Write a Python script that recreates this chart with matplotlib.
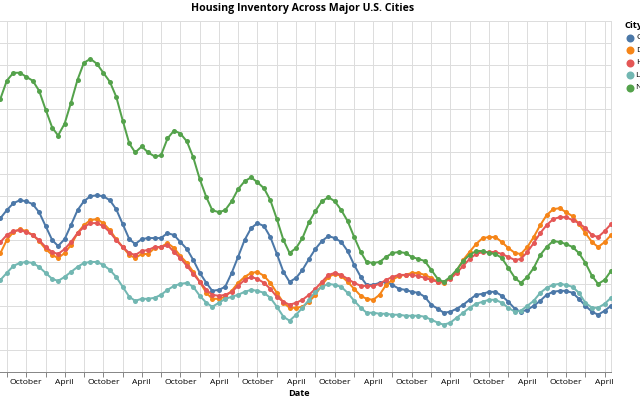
import numpy as np
import pandas as pd
import matplotlib
matplotlib.use('Agg')
import matplotlib.pyplot as plt
import matplotlib.dates as mdates
from matplotlib.lines import Line2D

# monthly housing inventory (hundreds of listings), Jun 2016 - May 2024
dates = pd.date_range('2016-06-01', periods=96, freq='MS')
cities = ['Chicago', 'Dallas', 'Houston', 'Los Angeles', 'New York']

chicago = [154, 162, 169, 172, 171, 168, 160, 146, 132, 126, 133, 147, 162, 171, 176, 177, 176, 172, 163, 148,
           133, 128, 133, 134, 134, 134, 139, 137, 130, 123, 112, 99, 89, 81, 82, 85, 99, 115, 132,
           144, 149, 146, 135, 118, 100, 90, 94, 102, 113, 123, 131, 136, 134, 130, 121, 107, 95, 87,
           87, 89, 90, 87, 83, 82, 80, 79, 75, 67, 63, 59, 60, 63, 67, 72, 77, 78, 80,
           80, 76, 70, 63, 60, 62, 66, 71, 77, 80, 81, 81, 79, 73, 66, 60, 57, 61, 66]
dallas = [119, 132, 140, 143, 141, 137, 131, 123, 117, 114, 119, 127, 139, 147, 152, 153, 149, 142, 133, 125,
          117, 114, 118, 118, 124, 125, 129, 124, 116, 109, 100, 90, 79, 73, 73, 75, 81, 89, 95,
          99, 100, 96, 89, 79, 69, 64, 64, 65, 70, 77, 87, 95, 98, 96, 90, 83, 76, 73,
          72, 77, 87, 92, 96, 97, 99, 99, 97, 94, 90, 89, 94, 101, 112, 120, 128, 134, 135,
          135, 130, 124, 119, 118, 125, 135, 147, 157, 163, 164, 160, 156, 148, 139, 130, 125, 130, 137]
houston = [130, 137, 141, 142, 140, 137, 132, 125, 120, 118, 123, 130, 139, 145, 149, 149, 146, 140, 132, 125,
           119, 117, 121, 122, 125, 125, 127, 120, 114, 106, 98, 90, 82, 77, 76, 77, 80, 86, 92,
           95, 93, 89, 83, 75, 70, 67, 69, 72, 77, 83, 90, 97, 99, 97, 93, 89, 86, 86,
           86, 88, 92, 95, 97, 97, 97, 96, 94, 92, 90, 90, 93, 99, 106, 113, 118, 120, 120,
           120, 118, 115, 112, 113, 120, 129, 139, 147, 153, 155, 155, 152, 149, 144, 137, 135, 141, 148]
los_angeles = [92, 99, 106, 109, 110, 109, 105, 99, 93, 91, 95, 100, 105, 109, 110, 110, 107, 102, 95, 85,
               75, 71, 73, 73, 74, 77, 82, 86, 88, 89, 85, 76, 69, 65, 69, 73, 75, 77, 80,
               82, 81, 79, 74, 65, 55, 51, 57, 64, 72, 80, 85, 88, 87, 85, 79, 71, 64, 59,
               59, 58, 58, 57, 57, 56, 56, 56, 55, 52, 49, 47, 49, 54, 59, 64, 68, 70, 72,
               72, 69, 64, 60, 61, 66, 71, 79, 84, 87, 88, 87, 85, 79, 69, 64, 64, 68, 74]
new_york = [274, 292, 300, 300, 296, 292, 282, 263, 245, 237, 249, 270, 293, 310, 314, 309, 300, 291, 276, 252,
            229, 220, 226, 220, 216, 217, 234, 242, 239, 231, 215, 193, 175, 162, 160, 162, 171, 183, 191,
            195, 190, 184, 172, 153, 132, 119, 124, 134, 150, 161, 171, 175, 171, 162, 151, 135, 120, 110,
            109, 110, 115, 119, 120, 119, 115, 113, 111, 102, 93, 90, 95, 102, 111, 117, 121, 121, 119,
            118, 114, 104, 94, 89, 95, 104, 117, 125, 131, 130, 128, 125, 119, 109, 96, 88, 92, 101]

series = [chicago, dallas, houston, los_angeles, new_york]
colors = ['#4c78a8', '#f58518', '#e45756', '#72b7b2', '#54a24b']

FONT = 'Open Sans'
W, H = 640, 400
px = 0.72  # points per pixel at 100 dpi

fig = plt.figure(figsize=(6.4, 4), dpi=100, facecolor='white')
# plot area (in pixels): left -6, right 611, top 21, bottom 371.5
left, right, top, bottom = -6.1, 611, 21, 371.5
ax = fig.add_axes([left / W, 1 - bottom / H, (right - left) / W, (bottom - top) / H])

for vals, c in zip(series, colors):
    ax.plot(dates, vals, color=c, lw=2 * px, marker='o', ms=5 * px, mew=0,
            solid_joinstyle='round', zorder=3)

ax.set_xlim(pd.Timestamp('2016-05-01'), pd.Timestamp('2024-05-01'))
ax.set_ylim(0, 352)
ax.set_yticks(np.arange(0, 353, 22))
ax.tick_params(axis='y', length=0, labelleft=False)

ax.xaxis.set_major_locator(mdates.MonthLocator(bymonth=[1, 4, 7, 10]))
names = {4: 'April', 10: 'October'}
ax.xaxis.set_major_formatter(plt.FuncFormatter(
    lambda v, p: names.get(mdates.num2date(v).month, '')))
ax.tick_params(axis='x', length=5 * px, width=px, color='#888888', pad=2 * px,
               labelsize=6.1, labelcolor='black')
for lab in ax.get_xticklabels():
    lab.set_fontfamily(FONT)

ax.grid(True, color='#dddddd', lw=px, zorder=0)
ax.set_axisbelow(True)
for s in ax.spines.values():
    s.set_color('#dddddd')
    s.set_linewidth(px)
ax.spines['bottom'].set_color('#888888')

mid = (left + right) / 2 / W
fig.text(mid, 1 - 8 / H, 'Housing Inventory Across Major U.S. Cities', ha='center', va='center',
         fontsize=7.6, fontweight='bold', family=FONT)
fig.text(mid - 4 / W, 1 - 393.5 / H, 'Date', ha='center', va='center',
         fontsize=6.6, fontweight='bold', family=FONT)

# legend
fig.text(624.5 / W, 1 - 25 / H, 'City', ha='left', va='center',
         fontsize=6.8, fontweight='bold', family=FONT)
for k, (name, c) in enumerate(zip(cities, colors)):
    yy = 1 - (37.7 + 12.5 * k) / H
    fig.add_artist(Line2D([630 / W], [yy], marker='o', ms=8 * px, mew=0, color=c,
                          transform=fig.transFigure))
    fig.text(636.5 / W, yy, name, ha='left', va='center', fontsize=6.1, family=FONT)

fig.savefig('out.png', dpi=100, facecolor='white')
